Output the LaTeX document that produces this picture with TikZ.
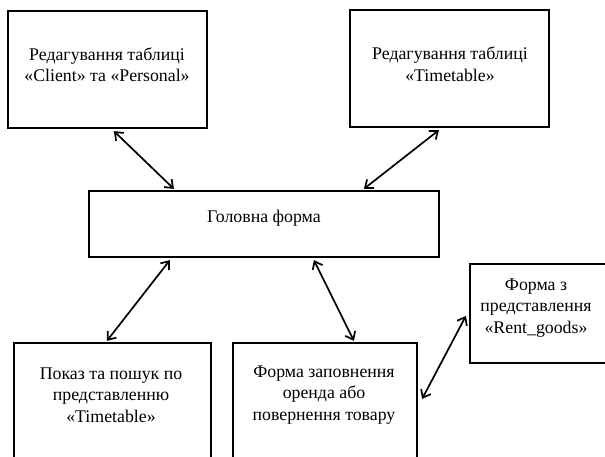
\documentclass[tikz,border=0pt]{standalone}
\usepackage{fontspec}
\setmainfont{Liberation Serif}
\usetikzlibrary{arrows.meta,calc}
\begin{document}
\begin{tikzpicture}[x=1pt,y=-1pt,
  box/.style={draw=black,line width=2.2pt,rectangle,inner sep=0pt},
  txt/.style={align=center,inner sep=0pt,font=\fontsize{17.8}{21.5}\selectfont},
  link/.style={line width=1.7pt,{Straight Barb[length=7pt,width=11pt]}-{Straight Barb[length=7pt,width=11pt]}}]
\useasboundingbox (0,0) rectangle (605,456);
\clip (0,0) rectangle (605,456);
\node[box,minimum width=199pt,minimum height=117pt] (b1) at (107.5,69.5) {};
\node[box,minimum width=199pt,minimum height=117pt] (b2) at (449.5,68.5) {};
\node[box,minimum width=350pt,minimum height=66pt] (m) at (264,224) {};
\node[box,minimum width=197pt,minimum height=140pt] (bl) at (112.5,413) {};
\node[box,minimum width=184pt,minimum height=140pt] (bm) at (325,413) {};
\node[box,minimum width=170pt,minimum height=99pt] (r) at (555,313.5) {};
\node[txt] (t1) at (107,64.5) {Редагування таблиці\\«Client» та «Personal»};
\node[txt] (t2) at (450,64) {Редагування таблиці\\«Timetable»};
\node[txt] (tm) at (264,218) {Головна форма};
\node[txt] (tr) at (536,308) {Форма з\\представлення\\«Rent\_goods»};
\node[txt] (tl) at (111,395) {Показ та пошук по\\представленню\\«Timetable»};
\node[txt] (tb) at (324,395) {Форма заповнення\\оренда або\\повернення товару};
\draw[link] ([xshift=107pt,yshift=-2pt]b1.south west) -- ([xshift=86pt,yshift=1pt]m.north west);
\draw[link] ([xshift=90pt,yshift=-2pt]b2.south west) -- ([xshift=276pt,yshift=1pt]m.north west);
\draw[link] ([xshift=82pt,yshift=-2pt]m.south west) -- ([xshift=94pt,yshift=1pt]bl.north west);
\draw[link] ([xshift=226pt,yshift=-2pt]m.south west) -- ([xshift=122pt,yshift=1pt]bm.north west);
\draw[link] ([xshift=4pt,yshift=-57pt]bm.north east) -- ([xshift=-3pt,yshift=-53pt]r.north west);
\end{tikzpicture}
\end{document}
